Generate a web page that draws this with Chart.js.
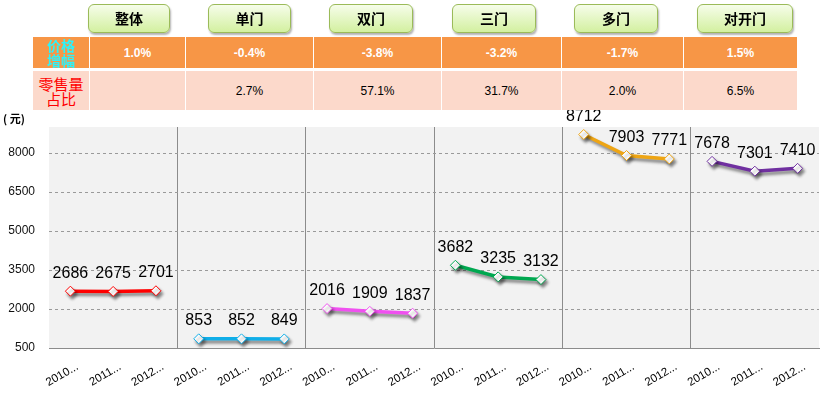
<!DOCTYPE html>
<html>
<head>
<meta charset="utf-8">
<script src="https://cdn.jsdelivr.net/npm/chart.js@4.4.0/dist/chart.umd.min.js"></script>
<style>
  body { margin: 0; background: #fff; overflow: hidden; }
  #wrap { position: relative; width: 833px; height: 396px; }
  #chart { position: absolute; left: 0; top: 0; }
  .btn {
    position: absolute; top: 4px; height: 27px;
    border: 1px solid #9bbb59; border-radius: 6px;
    background: linear-gradient(#f6fdea, #d3f0a0);
    box-shadow: 1px 2px 2px rgba(0,0,0,0.3);
    font: bold 14px "Noto Sans CJK SC", sans-serif; line-height: 27px;
    text-align: center; color: #000;
  }
  .cell {
    position: absolute; text-align: center;
    font: 12px "Liberation Sans", Arial, sans-serif;
    display: flex; align-items: center; justify-content: center;
    overflow: visible;
  }
  .orange { background: #f79646; color: #fff; font-weight: bold; top: 37px; height: 31px; }
  .pink { background: #fcd9cb; color: #000; top: 71px; height: 39px; }
  .lab { font-family: "Noto Sans CJK SC", sans-serif; font-size: 14px; line-height: 15px; }
  #unit { position: absolute; left: 3px; top: 110px; font: bold 11px "Noto Sans CJK SC", sans-serif; }
</style>
</head>
<body>
<div id="wrap">
  <canvas id="chart" width="833" height="396"></canvas>
  <div id="unit">( 元)</div>
</div>
<script>
const categories = ['整体', '单门', '双门', '三门', '多门', '对开门'];
const priceGrowth = ['1.0%', '-0.4%', '-3.8%', '-3.2%', '-1.7%', '1.5%'];
const salesShare = ['', '2.7%', '57.1%', '31.7%', '2.0%', '6.5%'];
const years = ['2010...', '2011...', '2012...'];
// average price per year, one list per panel (整体 .. 对开门)
const prices = [
  [2686, 2675, 2701],
  [853, 852, 849],
  [2016, 1909, 1837],
  [3682, 3235, 3132],
  [8712, 7903, 7771],
  [7678, 7301, 7410]
];
const yTicks = [500, 2000, 3500, 5000, 6500, 8000];

const lineColors = ['#ff0000', '#10aee8', '#f050f0', '#00a850', '#eea514', '#7030a0'];

// header buttons + table (html overlay)
const wrap = document.getElementById('wrap');
const btnLeft = [88, 208, 329, 452, 574, 697];
const btnWidth = [80, 81, 82, 82, 82, 94];
const colLeft = [90, 186, 314, 442, 562, 684];
const colWidth = [95, 127, 127, 119, 121, 113];

categories.forEach((c, i) => {
  const b = document.createElement('div');
  b.className = 'btn';
  b.style.left = btnLeft[i] + 'px';
  b.style.width = btnWidth[i] + 'px';
  b.textContent = c;
  wrap.appendChild(b);

  const o = document.createElement('div');
  o.className = 'cell orange';
  o.style.left = colLeft[i] + 'px';
  o.style.width = colWidth[i] + 'px';
  o.textContent = priceGrowth[i];
  wrap.appendChild(o);

  const p = document.createElement('div');
  p.className = 'cell pink';
  p.style.left = colLeft[i] + 'px';
  p.style.width = colWidth[i] + 'px';
  p.textContent = salesShare[i];
  wrap.appendChild(p);
});

const l1 = document.createElement('div');
l1.className = 'cell orange lab';
l1.style.left = '33px'; l1.style.width = '56px';
l1.style.color = '#2ef2f8';
l1.innerHTML = '<span>价格<br>增幅</span>';
wrap.appendChild(l1);
const l2 = document.createElement('div');
l2.className = 'cell pink lab';
l2.style.left = '33px'; l2.style.width = '56px';
l2.style.color = '#ff0000';
l2.style.fontWeight = 'normal';
l2.style.fontSize = '15px';
l2.innerHTML = '<span>零售量<br>占比</span>';
wrap.appendChild(l2);

// x labels: 3 years repeated for each panel
const labels = [];
categories.forEach(() => years.forEach(y => labels.push(y)));

const datasets = prices.map((vals, i) => {
  const data = labels.map(() => null);
  vals.forEach((v, j) => { data[i * 3 + j] = v; });
  return {
    label: categories[i],
    data: data,
    borderColor: lineColors[i],
    borderWidth: 3.5,
    pointStyle: 'rectRot',
    pointRadius: 5,
    pointBackgroundColor: '#fff',
    pointBorderColor: lineColors[i],
    pointBorderWidth: 1,
    spanGaps: false,
    tension: 0
  };
});

const plotBg = {
  id: 'plotBg',
  beforeDraw(chart) {
    const {ctx, chartArea: a} = chart;
    ctx.save();
    ctx.fillStyle = '#f2f2f2';
    ctx.fillRect(a.left, a.top, a.right - a.left, a.bottom - a.top);
    ctx.restore();
  }
};

const shadow = {
  id: 'shadow',
  beforeDatasetsDraw(chart) {
    const ctx = chart.ctx;
    ctx.save();
    ctx.shadowColor = 'rgba(0,0,0,0.45)';
    ctx.shadowOffsetX = 2;
    ctx.shadowOffsetY = 3;
    ctx.shadowBlur = 3;
  },
  afterDatasetsDraw(chart) {
    chart.ctx.restore();
  }
};

const valueLabels = {
  id: 'valueLabels',
  afterDatasetsDraw(chart) {
    const ctx = chart.ctx;
    ctx.save();
    ctx.font = '16px "Liberation Sans", Arial, sans-serif';
    ctx.fillStyle = '#000';
    ctx.textAlign = 'center';
    ctx.textBaseline = 'middle';
    chart.data.datasets.forEach((ds, i) => {
      chart.getDatasetMeta(i).data.forEach((pt, j) => {
        if (ds.data[j] == null) return;
        ctx.fillText(ds.data[j], pt.x, pt.y - 18);
      });
    });
    ctx.restore();
  }
};

new Chart(document.getElementById('chart'), {
  type: 'line',
  data: { labels: labels, datasets: datasets },
  options: {
    responsive: false,
    animation: false,
    layout: { padding: { top: 127, right: 14, left: 0, bottom: 0 } },
    plugins: { legend: { display: false }, tooltip: { enabled: false } },
    scales: {
      x: {
        offset: true,
        grid: {
          offset: true,
          drawTicks: false,
          color: c => (c.index % 3 === 0 && c.index > 0) ? '#8c8c8c' : 'rgba(0,0,0,0)',
          lineWidth: 1
        },
        border: { display: true, color: '#8c8c8c', width: 1 },
        ticks: {
          minRotation: 30, maxRotation: 30,
          padding: 12,
          labelOffset: 7,
          color: '#000',
          font: { family: '"Liberation Sans", Arial, sans-serif', size: 11.5 }
        },
        afterFit: s => { s.height = 48; }
      },
      y: {
        min: 500,
        max: 9000,
        afterBuildTicks: s => { s.ticks = yTicks.map(v => ({ value: v })); },
        grid: {
          drawTicks: false,
          color: c => c.tick && c.tick.value === 500 ? 'rgba(0,0,0,0)' : '#9a9a9a'
        },
        border: { display: false, dash: [3, 3] },
        ticks: {
          padding: 14,
          color: '#111',
          callback: v => String(v),
          font: { family: '"Liberation Sans", Arial, sans-serif', size: 12 }
        },
        afterFit: s => { s.width = 49; }
      }
    }
  },
  plugins: [plotBg, shadow, valueLabels]
});
</script>
</body>
</html>
